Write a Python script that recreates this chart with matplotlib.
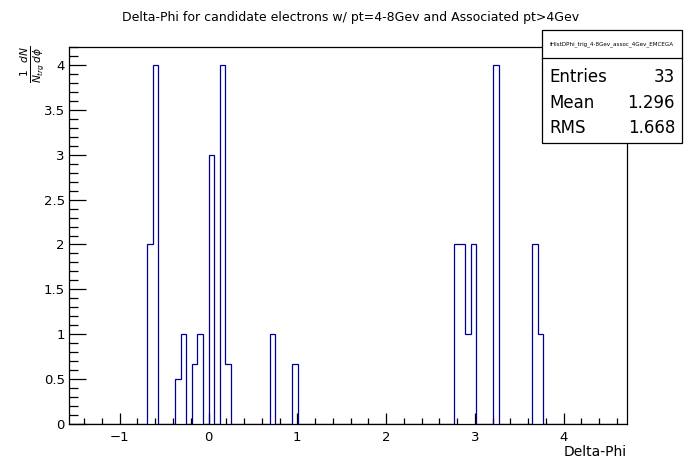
import numpy as np
import matplotlib
matplotlib.use("Agg")
import matplotlib.pyplot as plt
from matplotlib.ticker import MultipleLocator
from matplotlib.patches import Rectangle

plt.rcParams["font.family"] = ["DejaVu Sans"]
plt.rcParams["mathtext.fontset"] = "dejavusans"

# histogram: 100 bins over [-pi/2, 3pi/2], only the filled bins listed
n_bins = 100
dphi_centers = [-0.660, -0.597, -0.346, -0.283, -0.157, -0.094, 0.031, 0.157, 0.220,
                0.723, 0.974, 2.796, 2.859, 2.922, 2.985, 3.236, 3.676, 3.739]
bin_weights = [2, 4, 0.5, 1, 0.667, 1, 3, 4, 0.667,
               1, 0.667, 2, 2, 1, 2, 4, 2, 1]

title = "Delta-Phi for candidate electrons w/ pt=4-8Gev and Associated pt>4Gev"
hist_name = "fHistDPhi_trig_4-8Gev_assoc_4Gev_EMCEGA"
stat_names = ["Entries", "Mean", "RMS"]
stat_values = ["33", "1.296", "1.668"]

W, H = 696, 472
fig = plt.figure(figsize=(W / 100, H / 100), dpi=100)
ax = fig.add_axes([69 / W, 1 - 424 / H, (627 - 69) / W, (424 - 47) / H])

edges = np.linspace(-np.pi / 2, 3 * np.pi / 2, n_bins + 1)
ax.hist(dphi_centers, bins=edges, weights=bin_weights, histtype="step",
        color="#000099", lw=0.9)

ax.set_xlim(-np.pi / 2, 3 * np.pi / 2)
ax.set_ylim(0, 1.05 * max(bin_weights))

ax.xaxis.set_major_locator(MultipleLocator(1))
ax.xaxis.set_minor_locator(MultipleLocator(0.2))
ax.yaxis.set_major_locator(MultipleLocator(0.5))
ax.yaxis.set_minor_locator(MultipleLocator(0.1))
ax.tick_params(axis="x", which="major", direction="in", length=8, width=0.9,
               labelsize=9.5, pad=5)
ax.tick_params(axis="x", which="minor", direction="in", length=4, width=0.9)
ax.tick_params(axis="y", which="major", direction="in", length=12, width=0.9,
               labelsize=9.5, pad=3)
ax.tick_params(axis="y", which="minor", direction="in", length=6.5, width=0.9)
ax.yaxis.set_major_formatter(plt.FuncFormatter(lambda v, p: f"{v:g}"))
for s in ax.spines.values():
    s.set_linewidth(0.9)

fig.text(0.503, 1 - 17 / H, title, ha="center", va="center", fontsize=9)
fig.text(627 / W, 1 - 452 / H, "Delta-Phi", ha="right", va="center", fontsize=10)
fig.text(32 / W, 1 - 45 / H, r"$\frac{1}{N_{trg}}\frac{dN}{d\phi}$",
         rotation=90, ha="center", va="top", fontsize=11)

# stats box (ROOT-style, overhangs the frame on the right)
bx0, bx1, by0, by1, bsep = 542, 682, 30, 143, 58
fig.patches.append(Rectangle((bx0 / W, 1 - by1 / H), (bx1 - bx0) / W, (by1 - by0) / H,
                             transform=fig.transFigure, facecolor="white",
                             edgecolor="black", lw=0.9, zorder=5))
fig.add_artist(plt.Line2D([bx0 / W, bx1 / W], [1 - bsep / H, 1 - bsep / H],
                          transform=fig.transFigure, color="black", lw=0.9, zorder=6))
fig.text((bx0 + bx1) / 2 / W, 1 - 44 / H, hist_name, ha="center", va="center",
         fontsize=4.1, zorder=7)
baselines = [81.7, 108.3, 133.3]
for name, val, yb in zip(stat_names, stat_values, baselines):
    fig.text(549 / W, 1 - yb / H, name, ha="left", va="baseline", fontsize=12, zorder=7)
    fig.text(675 / W, 1 - yb / H, val, ha="right", va="baseline", fontsize=12, zorder=7)

fig.savefig("out.png", dpi=100)
